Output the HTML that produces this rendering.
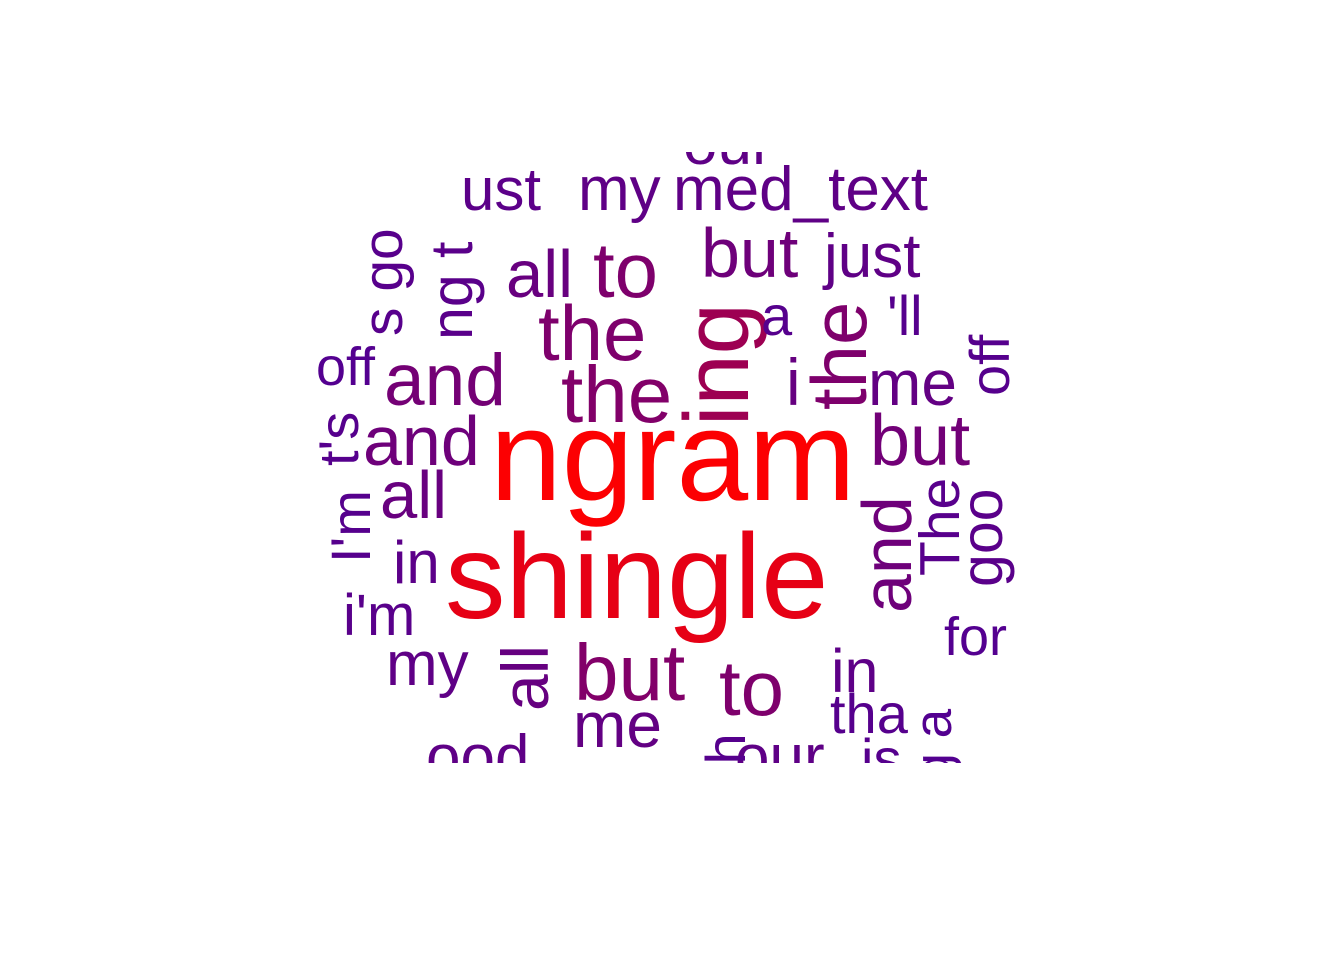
<!DOCTYPE html>
<html><head><meta charset="utf-8"><style>
html,body{margin:0;padding:0;background:#fff;}
svg{display:block;}
text{font-family:"Liberation Sans",Arial,sans-serif;}
</style></head><body>
<svg id="cloud" width="1344" height="960" viewBox="0 0 1344 960" xmlns="http://www.w3.org/2000/svg">
<rect width="1344" height="960" fill="#fff"/>
<defs><clipPath id="clip"><rect x="0" y="152" width="1344" height="611"/></clipPath></defs>
<g id="words" clip-path="url(#clip)"></g>
</svg>
<script>
const words = ["ngram","shingle","ing","the","the","the","to","but","to","and","and","and","all","all","all","but","but","me","me","i","just","ust","my","med_text","our","a","'ll","off","off","in","i'm","my","in","tha","for","ood","our","is","s go","ng t","t's","I'm","The","goo","ng a","th"];
const sizes = [129,121,92,78,80,78,78,70,78,73,70,70,67,67,66,72,80,64,64,66,62,60,62,62,62,56,56,54,56,60,58,62,61,56,54,62,62,56,57,59,56,56,57,59,53,56];
const xs = [490,445,748,538,561,866,593,701,719,384,363,911,380,506,548,870,574,868,573,786,824,461,578,673,683,761,887,316,1009,393,343,386,831,830,944,426,735,861,402,472,358,370,959,1002,951,745];
const ys = [500,618,426,360,422,410,297,277,715,405,465,613,518,297,711,465,700,405,747,405,277,210,210,210,164,335,335,385,396,583,635,685,692,733,655,778,778,778,336,340,466,563,576,587,812,780];
const rots = [0,0,-90,0,0,-90,0,0,0,0,0,-90,0,0,-90,0,0,0,0,0,0,0,0,0,0,0,0,0,-90,0,0,0,0,0,0,0,0,0,-90,-90,-90,-90,-90,-90,-90,-90];
function colorFor(s){
  let t=Math.max(0,Math.min(1,(s-52)/(130-52)));
  t=Math.pow(t,1.25);
  const r=Math.round(82+t*173), g=0, b=Math.round(145*(1-t));
  return `rgb(${r},${g},${b})`;
}
const g=document.getElementById('words');
const NS="http://www.w3.org/2000/svg";
words.forEach((w,i)=>{
  const el=document.createElementNS(NS,'text');
  
  
  el.setAttribute('x',xs[i]);el.setAttribute('y',ys[i]);
  el.setAttribute('font-size',sizes[i]);
  el.setAttribute('fill',colorFor(sizes[i]));
  if(rots[i]) el.setAttribute('transform',`rotate(${rots[i]} ${xs[i]} ${ys[i]})`);
  el.textContent=w;
  g.appendChild(el);
});
</script>
</body></html>
